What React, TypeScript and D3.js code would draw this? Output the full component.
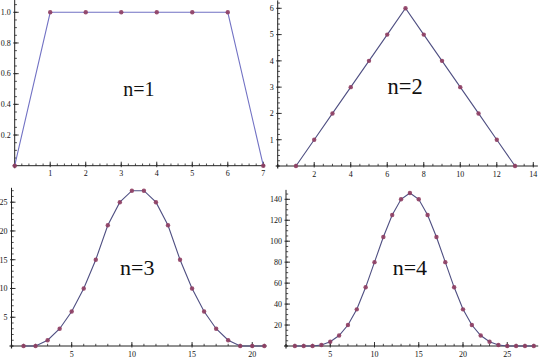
import React from "react";
import * as d3 from "d3";

// Distribution of sums of n dice
const n1Values = [0, 1, 1, 1, 1, 1, 1, 0];
const n1Start = 0;
const n2Values = [0, 1, 2, 3, 4, 5, 6, 5, 4, 3, 2, 1, 0];
const n2Start = 1;
const n3Values = [0, 0, 1, 3, 6, 10, 15, 21, 25, 27, 27, 25, 21, 15, 10, 6, 3, 1, 0, 0, 0];
const n3Start = 1;
const n4Values = [0, 0, 0, 1, 4, 10, 20, 35, 56, 80, 104, 125, 140, 146, 140, 125, 104, 80, 56, 35, 20, 10, 4, 1, 0, 0, 0, 0];
const n4Start = 1;

const n1XTicks = [1, 2, 3, 4, 5, 6, 7];
const n1YTicks = [0.2, 0.4, 0.6, 0.8, 1.0];
const n2XTicks = [2, 4, 6, 8, 10, 12, 14];
const n2YTicks = [1, 2, 3, 4, 5, 6];
const n3XTicks = [5, 10, 15, 20];
const n3YTicks = [5, 10, 15, 20, 25];
const n4XTicks = [5, 10, 15, 20, 25];
const n4YTicks = [20, 40, 60, 80, 100, 120, 140];

const labels = ["n=1", "n=2", "n=3", "n=4"];

const SERIF = "'Times New Roman', 'Liberation Serif', 'DejaVu Serif', serif";

type PanelCfg = {
  values: number[];
  start: number;
  xDomain: [number, number];
  xRange: [number, number];
  yDomain: [number, number];
  yRange: [number, number];
  xAxisEnd: number;
  yAxisEnd: number;
  xTicks: number[];
  yTicks: number[];
  xMinor: number;
  yMinor: number;
  yFmt: (v: number) => string;
  label: string;
  labelX: number;
  labelY: number;
  labelSize: number;
  lineColor: string;
};

const dotColor = "#8e3d62";

function Panel({ c }: { c: PanelCfg }) {
  const x = d3.scaleLinear().domain(c.xDomain).range(c.xRange);
  const y = d3.scaleLinear().domain(c.yDomain).range(c.yRange);
  const pts: [number, number][] = c.values.map((v, i) => [c.start + i, v]);
  const line = d3
    .line<[number, number]>()
    .x((d) => x(d[0]))
    .y((d) => y(d[1]));
  const x0 = x(0);
  const y0 = y(0);
  const xMinorTicks = d3.range(c.xMinor, c.xAxisEnd, c.xMinor);
  const yMinorTicks = d3.range(c.yMinor, c.yAxisEnd, c.yMinor);
  const axisColor = "#222";
  return (
    <g>
      <line x1={x0} x2={x(c.xAxisEnd)} y1={y0} y2={y0} stroke={axisColor} strokeWidth={1} />
      <line x1={x0} x2={x0} y1={y0} y2={y(c.yAxisEnd)} stroke={axisColor} strokeWidth={1} />
      {xMinorTicks.map((v, i) => (
        <line key={"xm" + i} x1={x(v)} x2={x(v)} y1={y0} y2={y0 - 2.2} stroke={axisColor} strokeWidth={0.8} />
      ))}
      {yMinorTicks.map((v, i) => (
        <line key={"ym" + i} x1={x0} x2={x0 + 2.2} y1={y(v)} y2={y(v)} stroke={axisColor} strokeWidth={0.8} />
      ))}
      {c.xTicks.map((v) => (
        <g key={"xt" + v}>
          <line x1={x(v)} x2={x(v)} y1={y0 + 1.5} y2={y0 - 4} stroke={axisColor} strokeWidth={0.9} />
          <text x={x(v)} y={y0 + 10.5} textAnchor="middle" fill="#111" style={{ fontFamily: SERIF, fontSize: "8px" }}>
            {v}
          </text>
        </g>
      ))}
      {c.yTicks.map((v) => (
        <g key={"yt" + v}>
          <line x1={x0 - 1.5} x2={x0 + 4} y1={y(v)} y2={y(v)} stroke={axisColor} strokeWidth={0.9} />
          <text x={x0 - 4} y={y(v) + 2.8} textAnchor="end" fill="#111" style={{ fontFamily: SERIF, fontSize: "8px" }}>
            {c.yFmt(v)}
          </text>
        </g>
      ))}
      <line x1={x0 - 2} x2={x0 + 2} y1={y0} y2={y0} stroke={axisColor} strokeWidth={1.2} />
      <line x1={x0} x2={x0} y1={y0 - 2} y2={y0 + 2.5} stroke={axisColor} strokeWidth={1.2} />
      <path d={line(pts) || ""} fill="none" stroke={c.lineColor} strokeWidth={1.1} />
      {pts.map((p, i) => (
        <circle key={"p" + i} cx={x(p[0])} cy={y(p[1])} r={2.2} fill={dotColor} opacity={0.9} />
      ))}
      <text x={c.labelX} y={c.labelY} fill="#111" style={{ fontFamily: SERIF, fontSize: c.labelSize + "px" }}>
        {c.label}
      </text>
    </g>
  );
}

export default function App() {
  const panels: PanelCfg[] = [
    {
      values: n1Values,
      start: n1Start,
      xDomain: [0, 7],
      xRange: [14.7, 263.3],
      yDomain: [0, 1],
      yRange: [165.7, 12.3],
      xAxisEnd: 7.05,
      yAxisEnd: 1.08,
      xTicks: n1XTicks,
      yTicks: n1YTicks,
      xMinor: 0.2,
      yMinor: 0.05,
      yFmt: (v) => v.toFixed(1),
      label: labels[0],
      labelX: 123.3,
      labelY: 95.7,
      labelSize: 20,
      lineColor: "#7272c4",
    },
    {
      values: n2Values,
      start: n2Start,
      xDomain: [0, 14],
      xRange: [277.7, 533.3],
      yDomain: [0, 6],
      yRange: [166, 8.3],
      xAxisEnd: 14.25,
      yAxisEnd: 6.3,
      xTicks: n2XTicks,
      yTicks: n2YTicks,
      xMinor: 0.5,
      yMinor: 0.2,
      yFmt: (v) => String(v),
      label: labels[1],
      labelX: 387.5,
      labelY: 94,
      labelSize: 22.5,
      lineColor: "#4f4f82",
    },
    {
      values: n3Values,
      start: n3Start,
      xDomain: [0, 21],
      xRange: [11.5, 264.3],
      yDomain: [0, 25],
      yRange: [346, 202.2],
      xAxisEnd: 21.2,
      yAxisEnd: 27.5,
      xTicks: n3XTicks,
      yTicks: n3YTicks,
      xMinor: 1,
      yMinor: 1,
      yFmt: (v) => String(v),
      label: labels[2],
      labelX: 120,
      labelY: 274.5,
      labelSize: 22,
      lineColor: "#4f4f82",
    },
    {
      values: n4Values,
      start: n4Start,
      xDomain: [0, 28],
      xRange: [286, 533.8],
      yDomain: [0, 140],
      yRange: [346, 199.3],
      xAxisEnd: 28.5,
      yAxisEnd: 149,
      xTicks: n4XTicks,
      yTicks: n4YTicks,
      xMinor: 1,
      yMinor: 5,
      yFmt: (v) => String(v),
      label: labels[3],
      labelX: 392.7,
      labelY: 275,
      labelSize: 22,
      lineColor: "#4f4f82",
    },
  ];
  return (
    <svg
      width={540}
      height={360}
      style={{ position: "absolute", left: 0, top: 0, background: "#fff" }}
    >
      <rect width={540} height={360} fill="#fff" />
      {panels.map((c, i) => (
        <Panel key={i} c={c} />
      ))}
    </svg>
  );
}
